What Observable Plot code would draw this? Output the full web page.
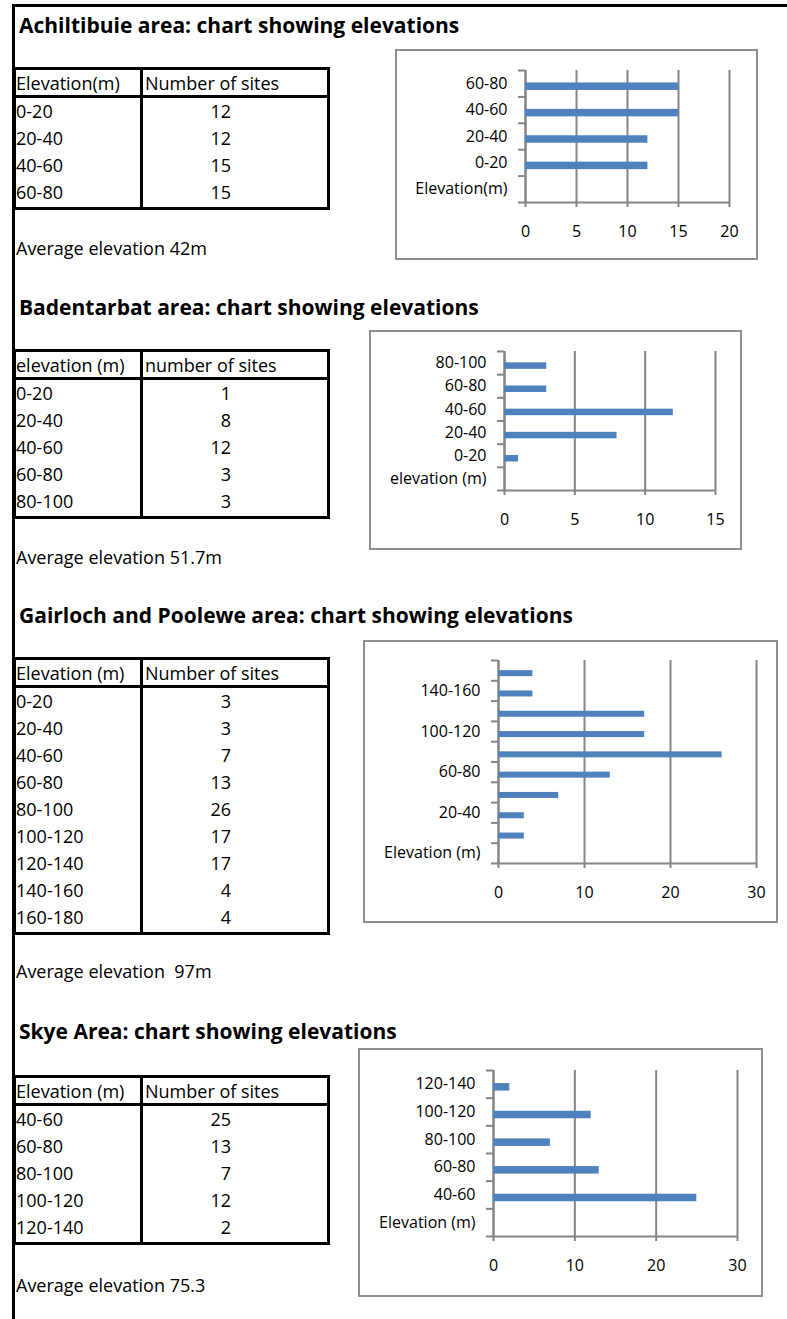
<!DOCTYPE html>
<html>
<head>
<meta charset="utf-8">
<script src="https://cdn.jsdelivr.net/npm/d3@7"></script>
<script src="https://cdn.jsdelivr.net/npm/@observablehq/plot@0.6"></script>
<style>
  html, body { margin: 0; padding: 0; background: #fff; }
  #page { position: relative; width: 787px; height: 1319px; overflow: hidden; background: #fff; font-family: "Open Sans", sans-serif; color: #000; }
  .abs { position: absolute; }
  .title { position: absolute; left: 19px; font-weight: bold; font-size: 21px; white-space: pre; line-height: 1; transform: translateY(-50%); }
  .cell { position: absolute; font-size: 18px; white-space: pre; line-height: 1; transform: translateY(-50%); }
  .num { position: absolute; font-size: 18px; white-space: pre; line-height: 1; transform: translate(-100%, -50%); }
  .box { position: absolute; border: 2px solid #8e8e8e; background: #fff; }
  .box svg { display: block; }
</style>
</head>
<body>
<div id="page"></div>
<script>
// ---------- data ----------
const achTitle = "Achiltibuie area: chart showing elevations";
const achHeaders = ["Elevation(m)", "Number of sites"];
const achBands = ["0-20", "20-40", "40-60", "60-80"];
const achSites = [12, 12, 15, 15];
const achAverage = "Average elevation 42m";
const achTicks = [0, 5, 10, 15, 20];

const badTitle = "Badentarbat area: chart showing elevations";
const badHeaders = ["elevation (m)", "number of sites"];
const badBands = ["0-20", "20-40", "40-60", "60-80", "80-100"];
const badSites = [1, 8, 12, 3, 3];
const badAverage = "Average elevation 51.7m";
const badTicks = [0, 5, 10, 15];

const gaiTitle = "Gairloch and Poolewe area: chart showing elevations";
const gaiHeaders = ["Elevation (m)", "Number of sites"];
const gaiBands = ["0-20", "20-40", "40-60", "60-80", "80-100", "100-120", "120-140", "140-160", "160-180"];
const gaiSites = [3, 3, 7, 13, 26, 17, 17, 4, 4];
const gaiAverage = "Average elevation  97m";
const gaiTicks = [0, 10, 20, 30];

const skyTitle = "Skye Area: chart showing elevations";
const skyHeaders = ["Elevation (m)", "Number of sites"];
const skyBands = ["40-60", "60-80", "80-100", "100-120", "120-140"];
const skySites = [25, 13, 7, 12, 2];
const skyAverage = "Average elevation 75.3";
const skyTicks = [0, 10, 20, 30];

// ---------- layout helpers ----------
const page = document.getElementById("page");
function el(cls, css, text) {
  const d = document.createElement("div");
  if (cls) d.className = cls;
  Object.assign(d.style, css);
  if (text != null) d.textContent = text;
  page.appendChild(d);
  return d;
}

// outer sheet frame
el("abs", {left: "12px", top: "4px", width: "775px", height: "3px", background: "#000"});
el("abs", {left: "12px", top: "4px", width: "3px", height: "1315px", background: "#000"});

function section({title, titleY, headers, bands, sites, tableTop, average, averageY}) {
  el("title", {top: titleY + "px"}, title);
  const n = bands.length;
  const H = 62 + 27 * (n - 1);
  el("abs", {left: "13px", top: tableTop + "px", width: "317px", height: H + "px", border: "3px solid #000", boxSizing: "border-box"});
  el("abs", {left: "140px", top: tableTop + "px", width: "3px", height: H + "px", background: "#000"});
  el("abs", {left: "13px", top: (tableTop + 28) + "px", width: "317px", height: "3px", background: "#000"});
  el("cell", {left: "16px", top: (tableTop + 16) + "px"}, headers[0]);
  el("cell", {left: "145px", top: (tableTop + 16) + "px"}, headers[1]);
  bands.forEach((b, i) => {
    const y = tableTop + 44 + 27 * i;
    el("cell", {left: "16px", top: y + "px"}, b);
    el("num", {left: "231px", top: y + "px"}, String(sites[i]));
  });
  el("cell", {left: "16px", top: averageY + "px"}, average);
}

function chart({headers, bands, sites, ticks, labelEvery, box, m, barH}) {
  const cats = [headers[0], ...bands];
  const vals = [null, ...sites];
  const n = cats.length;
  const rows = cats.map((c, i) => ({cat: c, i, value: vals[i]}));
  const w = box.w - 4, h = box.h - 4;
  const bw = (h - m.t - m.b) / n;
  const off = 3;
  const grey = "#858585";
  const sw = 2;
  const svg = Plot.plot({
    width: w, height: h,
    marginLeft: m.l, marginRight: m.r, marginTop: m.t, marginBottom: m.b,
    style: {fontFamily: "'Open Sans', sans-serif", fontSize: "16px", color: "#000", background: "#fff", overflow: "visible"},
    x: {type: "linear", domain: [0, ticks[ticks.length - 1]]},
    y: {type: "linear", domain: [0, n]},
    marks: [
      Plot.gridX(ticks, {stroke: grey, strokeOpacity: 1, strokeWidth: sw}),
      Plot.axisX(ticks, {tickSize: 5, tickPadding: 18, stroke: grey, strokeWidth: sw, fill: "#000", label: null, fontSize: 16}),
      Plot.axisY(d3.range(0, n + 1), {tickSize: 7, tickFormat: () => "", stroke: grey, strokeWidth: sw, label: null}),
      Plot.axisY(rows.filter(r => r.i % labelEvery === 0).map(r => r.i + 0.5),
        {tickSize: 0, tickPadding: 18, tickFormat: v => cats[Math.floor(v)], fill: "#000", label: null, fontSize: 16}),
      Plot.ruleX([0], {stroke: grey, strokeWidth: sw}),
      Plot.ruleY([0], {stroke: grey, strokeWidth: sw}),
      Plot.rect(rows.filter(r => r.value != null), {
        x1: 0, x2: "value", y1: "i", y2: r => r.i + 1, fill: "#4f81bd",
        insetTop: (bw - barH) / 2 + off, insetBottom: (bw - barH) / 2 - off
      })
    ]
  });
  const d = el("box", {left: box.x + "px", top: box.y + "px", width: w + "px", height: h + "px"});
  d.appendChild(svg);
}

// ---------- sections ----------
section({title: achTitle, titleY: 25, headers: achHeaders, bands: achBands, sites: achSites, tableTop: 67, average: achAverage, averageY: 248});
chart({headers: achHeaders, bands: achBands, sites: achSites, ticks: achTicks, labelEvery: 1,
  box: {x: 395, y: 49, w: 363, h: 211}, m: {l: 128, r: 27, t: 19, b: 56}, barH: 7.5});

section({title: badTitle, titleY: 307, headers: badHeaders, bands: badBands, sites: badSites, tableTop: 349, average: badAverage, averageY: 557});
chart({headers: badHeaders, bands: badBands, sites: badSites, ticks: badTicks, labelEvery: 1,
  box: {x: 369, y: 330, w: 373, h: 220}, m: {l: 133, r: 25, t: 19, b: 58}, barH: 6.5});

section({title: gaiTitle, titleY: 615, headers: gaiHeaders, bands: gaiBands, sites: gaiSites, tableTop: 657, average: gaiAverage, averageY: 971});
chart({headers: gaiHeaders, bands: gaiBands, sites: gaiSites, ticks: gaiTicks, labelEvery: 2,
  box: {x: 363, y: 640, w: 415, h: 283}, m: {l: 133, r: 20, t: 18, b: 58}, barH: 6});

section({title: skyTitle, titleY: 1031, headers: skyHeaders, bands: skyBands, sites: skySites, tableTop: 1075, average: skyAverage, averageY: 1285});
chart({headers: skyHeaders, bands: skyBands, sites: skySites, ticks: skyTicks, labelEvery: 1,
  box: {x: 358, y: 1048, w: 405, h: 249}, m: {l: 133, r: 24, t: 20, b: 59}, barH: 7.5});
</script>
</body>
</html>
